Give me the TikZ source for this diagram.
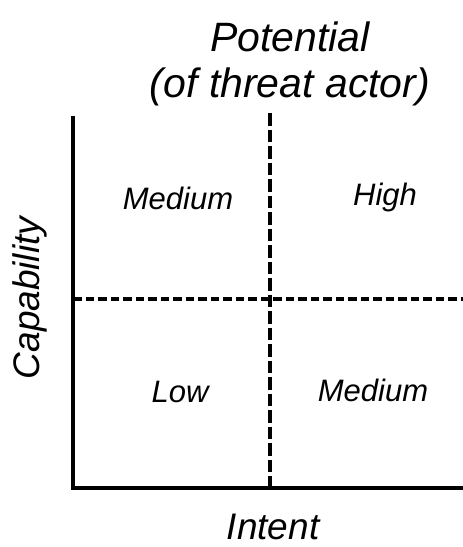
\documentclass[tikz,border=0pt]{standalone}
\usepackage{fontspec}
\setmainfont{Liberation Sans}
\usetikzlibrary{positioning}
\tikzset{
	axisline/.style={line width=3.5pt},
	gridline/.style={line width=4pt, dash pattern=on 8.5pt off 4pt},
	vgridline/.style={line width=4pt, dash pattern=on 12.5pt off 4pt},
	quadlabel/.style={font=\fontsize{31}{36}\selectfont\itshape},
	axislabel/.style={font=\fontsize{37}{42}\selectfont\itshape},
	titlelabel/.style={font=\fontsize{41}{46}\selectfont\itshape, align=center}
}

\begin{document}
\begin{tikzpicture}[x=1pt, y=-1pt]
		%%%%% START %%%%%
		\useasboundingbox (0, 0) rectangle (463, 547);
		
		\coordinate (origin) at (73, 488);
		\coordinate (ytop) at (73, 116);
		\coordinate (xend) at (463, 488);
		\coordinate (midtop) at (270, 113);
		\coordinate (midbot) at (270, 488);
		\coordinate (midleft) at (73, 299);
		\coordinate (midright) at (463, 299);
		
		\draw[vgridline] (midtop) -- (midbot);
		\draw[gridline] (midleft) -- (midright);
		\draw[axisline] (ytop) -- (origin) -- (xend);
		
		\node[titlelabel] (title) at (290, 64) {Potential\\(of threat actor)};
		
		\node[quadlabel] (topleft) at (178, 198) {Medium};
		\node[quadlabel] (topright) at (385, 197) {High};
		\node[quadlabel] (botleft) at (180, 392) {Low};
		\node[quadlabel] (botright) at (373, 390) {Medium};
		
		\node[axislabel, rotate=90] (capability) at (30, 298) {Capability};
		\node[axislabel] (intent) at (273, 527) {Intent};
		
		%%%%% END %%%%%
	\end{tikzpicture}
\end{document}
